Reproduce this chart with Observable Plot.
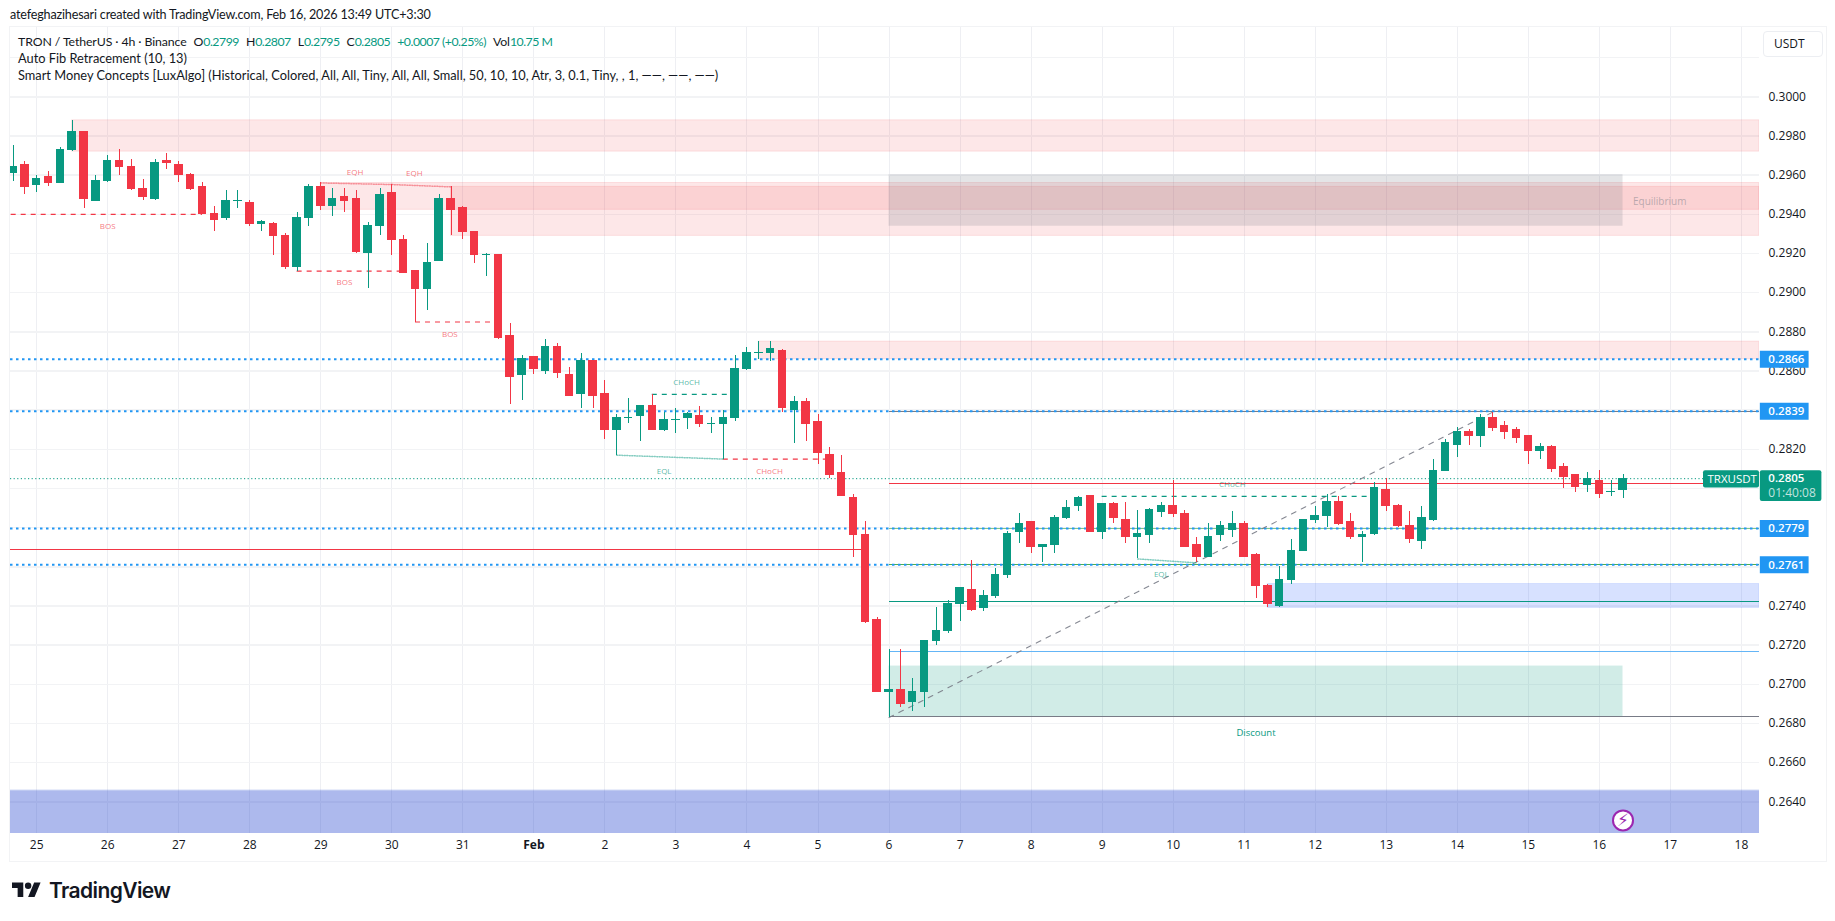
<!DOCTYPE html>
<html><head><meta charset="utf-8">
<script src="https://cdn.jsdelivr.net/npm/d3@7"></script>
<script src="https://cdn.jsdelivr.net/npm/@observablehq/plot@0.6"></script>
<style>
html,body{margin:0;background:#fff;font-family:Lato,"Open Sans",sans-serif;color:#131722}
#root{position:relative;width:1835px;height:921px;overflow:hidden}
#credit{height:26px;line-height:30px;padding-left:10px;font-size:12.6px;letter-spacing:-.18px;white-space:nowrap}
#plot svg{display:block}
#frame{position:absolute;left:9px;top:26px;width:1816px;height:834px;border:1.5px solid #f2f3f5;pointer-events:none}
#legend{position:absolute;left:18px;top:33px;font-size:12.8px;line-height:17px;white-space:nowrap}
#legend .top{font-size:12.3px;letter-spacing:-.1px}
#legend b{font-weight:400;color:#089981;letter-spacing:-.5px}
#legend span{margin-left:7px}
#unit{position:absolute;left:1763px;top:31px;width:48px;height:24px;padding-left:10px;line-height:24px;border:1px solid #eceef2;border-radius:4px;font-size:12px;font-family:"Open Sans",sans-serif}
#footer{position:absolute;left:12px;top:878px;display:flex;align-items:center;gap:8px;font-family:Inter,sans-serif;font-weight:600;font-size:21px;letter-spacing:-.6px;color:#131722}
</style></head><body>
<div id="root">
<div id="credit">atefeghazihesari created with TradingView.com, Feb 16, 2026 13:49 UTC+3:30</div>
<div id="plot"></div>
<div id="frame"></div>
<div id="legend">
<div class="top">TRON / TetherUS · 4h · Binance<span>O<b>0.2799</b></span><span>H<b>0.2807</b></span><span>L<b>0.2795</b></span><span>C<b>0.2805</b></span><span><b>+0.0007 (+0.25%)</b></span><span>Vol<b>10.75 M</b></span></div>
<div>Auto Fib Retracement (10, 13)</div>
<div>Smart Money Concepts [LuxAlgo] (Historical, Colored, All, All, Tiny, All, All, Small, 50, 10, 10, Atr, 3, 0.1, Tiny, , 1, ——, ——, ——)</div>
</div>
<div id="unit">USDT</div>
<div id="footer"><svg width="29" height="23" viewBox="0 0 36 28" fill="#131722"><path d="M14 22H7V11H0V4h14v18zM28 22h-8l7.5-18h8L28 22z"/><circle cx="20" cy="8" r="4"/></svg><span>TradingView</span></div>
</div>
<script>
// Candles are 4h bars, counted from Jan 25 00:00 (index 0); first visible bar is index -2.
const firstBar = -2;
const opens = [
.2961,.2965,.2955,.2959,.2956,.2973,.2982,.2947,.2957,.2967,
.2964,.2953,.2948,.2967,.2965,.2960,.2954,.2940,.2938,.2947,
.2946,.2935,.2935,.2929,.2913,.2938,.2954,.2944,.2949,.2948,
.2920,.2934,.2951,.2927,.2911,.2902,.2916,.2948,.2943,.2931,
.2919,.2919,.2878,.2858,.2867,.2860,.2872,.2858,.2848,.2865,
.2848,.2830,.2836,.2837,.2842,.2830,.2835,.2836,.2837,.2833,
.2833,.2836,.2861,.2869,.2869,.2870,.2840,.2844,.2834,.2817,
.2808,.2795,.2776,.2733,.2696,.2697,.2691,.2696,.2722,.2727,
.2741,.2748,.2739,.2745,.2756,.2778,.2783,.2770,.2771,.2785,
.2791,.2796,.2778,.2792,.2784,.2775,.2776,.2788,.2791,.2787,
.2771,.2765,.2776,.2779,.2782,.2766,.2750,.2740,.2753,.2768,
.2784,.2786,.2793,.2783,.2775,.2777,.2799,.2791,.2781,.2773,
.2784,.2809,.2822,.2829,.2827,.2836,.2832,.2830,.2827,.2819,
.2821,.2811,.2807,.2802,.2804,.2798,.2799];
const highs = [
.2975,.2967,.2960,.2962,.2974,.2988,.2982,.2960,.2970,.2973,
.2968,.2958,.2968,.2971,.2967,.2961,.2956,.2944,.2952,.2952,
.2947,.2937,.2936,.2930,.2941,.2955,.2956,.2953,.2953,.2952,
.2936,.2953,.2955,.2929,.2911,.2925,.2950,.2954,.2944,.2931,
.2920,.2919,.2884,.2868,.2867,.2876,.2874,.2862,.2869,.2865,
.2855,.2838,.2846,.2842,.2848,.2839,.2841,.2839,.2842,.2836,
.2840,.2868,.2872,.2875,.2875,.2871,.2847,.2846,.2838,.2821,
.2817,.2797,.2783,.2734,.2718,.2718,.2703,.2722,.2739,.2743,
.2749,.2763,.2748,.2759,.2778,.2787,.2783,.2771,.2786,.2794,
.2796,.2796,.2792,.2793,.2793,.2789,.2790,.2793,.2804,.2789,
.2775,.2782,.2783,.2788,.2783,.2767,.2751,.2760,.2774,.2784,
.2791,.2797,.2796,.2787,.2778,.2803,.2805,.2792,.2788,.2791,
.2815,.2825,.2831,.2830,.2838,.2839,.2834,.2831,.2827,.2823,
.2822,.2813,.2807,.2808,.2809,.2804,.2807];
const lows = [
.2957,.2950,.2951,.2954,.2956,.2972,.2943,.2947,.2956,.2960,
.2952,.2947,.2947,.2963,.2956,.2952,.2940,.2931,.2937,.2943,
.2934,.2931,.2919,.2912,.2911,.2934,.2942,.2939,.2941,.2920,
.2902,.2929,.2919,.2910,.2885,.2891,.2916,.2929,.2927,.2915,
.2908,.2876,.2843,.2845,.2858,.2858,.2856,.2847,.2841,.2841,
.2825,.2817,.2833,.2824,.2830,.2829,.2828,.2830,.2831,.2828,
.2815,.2834,.2860,.2866,.2865,.2839,.2823,.2824,.2812,.2805,
.2796,.2765,.2731,.2696,.2683,.2688,.2686,.2688,.2720,.2726,
.2732,.2737,.2737,.2744,.2754,.2772,.2767,.2762,.2767,.2784,
.2788,.2778,.2774,.2782,.2772,.2764,.2772,.2785,.2785,.2770,
.2762,.2765,.2773,.2775,.2765,.2744,.2739,.2739,.2751,.2768,
.2782,.2780,.2781,.2774,.2762,.2776,.2788,.2780,.2772,.2769,
.2783,.2809,.2816,.2822,.2821,.2829,.2825,.2823,.2812,.2815,
.2808,.2800,.2798,.2798,.2795,.2796,.2795];
const closes = [
.2964,.2954,.2958,.2956,.2973,.2982,.2948,.2957,.2967,.2964,
.2953,.2949,.2966,.2966,.2960,.2953,.2940,.2937,.2947,.2947,
.2935,.2936,.2929,.2913,.2938,.2954,.2944,.2948,.2947,.2921,
.2934,.2950,.2927,.2910,.2902,.2915,.2948,.2942,.2931,.2919,
.2919,.2877,.2857,.2866,.2861,.2872,.2859,.2847,.2865,.2847,
.2830,.2836,.2836,.2842,.2830,.2835,.2835,.2838,.2833,.2833,
.2836,.2861,.2869,.2869,.2871,.2841,.2844,.2833,.2818,.2807,
.2796,.2776,.2732,.2696,.2697,.2690,.2696,.2722,.2727,.2741,
.2749,.2738,.2745,.2756,.2777,.2782,.2770,.2771,.2785,.2790,
.2795,.2778,.2792,.2785,.2775,.2777,.2789,.2791,.2787,.2770,
.2765,.2775,.2781,.2782,.2765,.2750,.2741,.2753,.2768,.2784,
.2786,.2793,.2782,.2775,.2776,.2800,.2791,.2781,.2774,.2785,
.2809,.2823,.2829,.2827,.2836,.2831,.2829,.2826,.2819,.2821,
.2810,.2806,.2801,.2805,.2797,.2798,.2805];

const dayLabels = ["25","26","27","28","29","30","31","Feb","2","3","4","5","6","7","8","9","10","11","12","13","14","15","16","17","18"];
const gridPrices = d3.range(0, 21).map(k => 0.2640 + k * 0.002);
const shownPrices = [.3,.298,.296,.294,.292,.29,.288,.286,.282,.274,.272,.27,.268,.266,.264];

// [first bar, top price, bottom price]
const supplyZones = [[3,.2988,.2972],[24,.2956,.29423],[35,.2954,.2929],[61,.2875,.2866]];
const demandZones = [[104,.27512,.2739]];
const lowerZones = [[-3,.2646],[-3,.26455]];
const equilibriumZone = [[72,134,.29602,.29339]];
const discountZone = [[72,134,.27093,.26834]];

const keyLevels = [.2866,.28394,.27796,.2761];
const keyLevelText = ["0.2866","0.2839","0.2779","0.2761"];
const lastPrice = 0.2805;
// [first bar, price, kind]
const fibLevels = [[72,.28394,"#787b86"],[72,.28023,"#f23645"],[72,.27796,"#81c784"],[72,.2761,"#4caf50"],[72,.27425,"#089981"],[72,.27165,"#64b5f6"],[72,.26833,"#787b86"]];
const oldLevel = 0.2769, oldLevelEnd = 70;
const fibDiagonal = [[72,.2683],[123,.2839]];
// [from bar, to bar, price]
const bosRed = [[-3,14,.2940],[22,31,.2911],[32,39,.2885],[58,67,.2815]];
const chochGreen = [[52,59,.2848],[90,113,.2796]];
const eqh = [[[24,.2956],[30,.29552]],[[30,.29552],[35,.2954]]];
const eql = [[[49,.2817],[58,.2815]],[[93,.2764],[98,.2762]]];
const redTags = [["BOS",6,.29339],["BOS",26,.2905],["BOS",34.9,.28789],["EQH",26.9,.29615],["EQH",31.9,.29607],["CHoCH",61.9,.28087]];
const greenTags = [["CHoCH",54.9,.28542],["EQL",53,.28087],["EQL",95,.27561],["CHoCH",101,.28023]];

const GREEN="#089981", RED="#f23645", BLUE="#2196f3", GREY="#787b86";
const xMin=-2.213, xMax=145.53, yMin=.26238, yMax=.30354;
const barHalf=.36;
const labelX1=145.6, labelX2=149.72, lastX2=150.8, tagX1=140.8;

const candles = opens.map((o,k)=>({i:firstBar+k,o,h:highs[k],l:lows[k],c:closes[k],col:closes[k]>=o?GREEN:RED}));
const seg = s => ({x1:s[0],x2:s[1],y:s[2]});
const lineSeg = (data, opts) => data.map(p => Plot.line(p, {x:d=>d[0], y:d=>d[1], clip:true, ...opts}));
const rule = (data, opts) => Plot.ruleY(data.map(seg), {x1:"x1", x2:"x2", y:"y", clip:true, ...opts});
const font = '"Open Sans",Roboto,sans-serif';

const chart = Plot.plot({
  width:1835, height:835,
  marginTop:1, marginBottom:28, marginLeft:10, marginRight:76,
  x:{domain:[xMin,xMax]},
  y:{domain:[yMin,yMax]},
  style:{background:"transparent",fontFamily:font,fontSize:"12px",color:"#131722"},
  marks:[
    Plot.ruleX(dayLabels.map((_,k)=>k*6),{x:d=>d,stroke:"#eeeff3",strokeWidth:1,shapeRendering:"crispEdges"}),
    Plot.ruleY(gridPrices,{y:d=>d,stroke:"#f2f3f5",strokeWidth:1.5,shapeRendering:"crispEdges"}),
    // zones
    Plot.rect(supplyZones,{x1:d=>d[0],x2:xMax,y1:d=>d[1],y2:d=>d[2],fill:RED,fillOpacity:.12,stroke:RED,strokeOpacity:.12,clip:true}),
    Plot.rect(demandZones,{x1:d=>d[0],x2:xMax,y1:d=>d[1],y2:d=>d[2],fill:"#2962ff",fillOpacity:.19,stroke:"#2962ff",strokeOpacity:.12,clip:true}),
    Plot.rect(lowerZones,{x1:d=>d[0],x2:xMax,y1:d=>d[1],y2:yMin,fill:"#2d4fd0",fillOpacity:.22,clip:true}),
    Plot.rect(equilibriumZone,{x1:d=>d[0],x2:d=>d[1],y1:d=>d[2],y2:d=>d[3],fill:GREY,fillOpacity:.2}),
    Plot.rect(discountZone,{x1:d=>d[0],x2:d=>d[1],y1:d=>d[2],y2:d=>d[3],fill:GREEN,fillOpacity:.19}),
    // levels
    Plot.ruleY(fibLevels,{x1:d=>d[0],x2:xMax,y:d=>d[1],stroke:d=>d[2],strokeWidth:1,shapeRendering:"crispEdges"}),
    Plot.ruleY([oldLevel],{x1:xMin,x2:oldLevelEnd,y:d=>d,stroke:RED,strokeWidth:1,shapeRendering:"crispEdges"}),
    Plot.ruleY([lastPrice],{x1:xMin,x2:xMax,y:d=>d,stroke:GREEN,strokeWidth:1,strokeDasharray:"1.2 2.4"}),
    Plot.ruleY(keyLevels,{x1:xMin,x2:xMax,y:d=>d,stroke:BLUE,strokeWidth:2,strokeDasharray:"2.5 3.5"}),
    Plot.line(fibDiagonal,{x:d=>d[0],y:d=>d[1],stroke:GREY,strokeOpacity:.9,strokeWidth:1.1,strokeDasharray:"5 6"}),
    rule(bosRed,{stroke:RED,strokeWidth:1.2,strokeDasharray:"5 5"}),
    rule(chochGreen,{stroke:GREEN,strokeWidth:1.2,strokeDasharray:"5 5"}),
    ...lineSeg(eqh,{stroke:RED,strokeOpacity:.5,strokeWidth:1.5,strokeDasharray:"1 1.5"}),
    ...lineSeg(eql,{stroke:GREEN,strokeOpacity:.5,strokeWidth:1.5,strokeDasharray:"1 1.5"}),
    // tags
    Plot.text(redTags,{x:d=>d[1],y:d=>d[2],text:d=>d[0],fill:RED,fillOpacity:.7,fontSize:8}),
    Plot.text(greenTags,{x:d=>d[1],y:d=>d[2],text:d=>d[0],fill:GREEN,fillOpacity:.7,fontSize:8}),
    Plot.text(["Discount"],{x:103,y:.26754,text:d=>d,fill:GREEN,fontSize:9.5}),
    Plot.text(["Equilibrium"],{x:137.1,y:.29465,text:d=>d,fill:GREY,fillOpacity:.5,fontSize:10}),
    // candles
    Plot.ruleX(candles,{x:"i",y1:"l",y2:"h",stroke:"col",strokeWidth:1,shapeRendering:"crispEdges",clip:true}),
    Plot.rect(candles,{x1:d=>d.i-barHalf,x2:d=>d.i+barHalf,y1:"o",y2:"c",fill:"col",insetTop:-.5,insetBottom:-.5,shapeRendering:"crispEdges",clip:true}),
    // axes
    Plot.axisX({ticks:dayLabels.map((d,k)=>k*6).filter((_,k)=>dayLabels[k]!=="Feb"),tickFormat:v=>dayLabels[v/6],tickSize:0,tickPadding:7,label:null,anchor:"bottom"}),
    Plot.axisX({ticks:[dayLabels.indexOf("Feb")*6],tickFormat:()=>"Feb",tickSize:0,tickPadding:7,label:null,anchor:"bottom",fontWeight:"bold"}),
    Plot.axisY({ticks:shownPrices,tickFormat:d3.format(".4f"),tickSize:0,tickPadding:9,label:null,anchor:"right"}),
    // price tags
    Plot.ruleY(keyLevels,{x1:labelX1,x2:labelX2,y:d=>d,stroke:BLUE,strokeWidth:17}),
    Plot.text(keyLevels,{x:labelX1,y:d=>d,text:(d,k)=>keyLevelText[k],dx:8,textAnchor:"start",fill:"#fff",fontWeight:600,fontSize:11.5}),
    Plot.rect([0],{x1:labelX1,x2:lastX2,y1:.28091,y2:.27933,fill:GREEN,rx:2}),
    Plot.rect([0],{x1:tagX1,x2:xMax,y1:.28091,y2:.28002,fill:GREEN,rx:2}),
    Plot.text(["TRXUSDT"],{x:tagX1,y:.28048,text:d=>d,dx:4,textAnchor:"start",fill:"#fff",fontSize:11.5}),
    Plot.text(["0.2805"],{x:labelX1,y:.2805,text:d=>d,dx:8,textAnchor:"start",fill:"#fff",fontWeight:600,fontSize:11.5}),
    Plot.text(["01:40:08"],{x:labelX1,y:.27975,text:d=>d,dx:8,textAnchor:"start",fill:"#fff",fillOpacity:.75,fontSize:12}),
    // alert badge
    Plot.dot([134],{x:d=>d,y:.26305,r:10,fill:"#fff",stroke:"#9c27b0",strokeWidth:2}),
    Plot.text(["⚡"],{x:134,y:.26305,text:d=>d,fill:"#9c27b0",fontSize:17,fontFamily:"DejaVu Sans"})
  ]
});
document.getElementById("plot").append(chart);
</script>
</body></html>
